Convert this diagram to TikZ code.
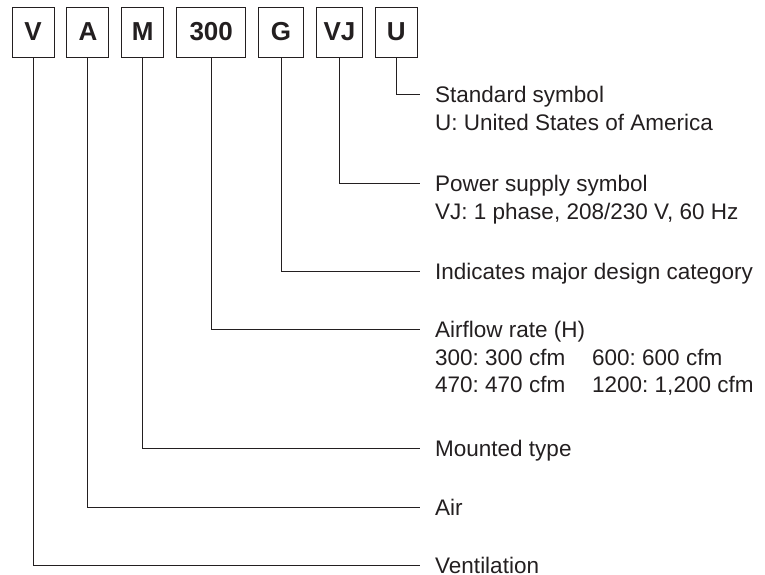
\documentclass[tikz,border=0pt]{standalone}
\usepackage{fontspec}
\setmainfont{Liberation Sans}
\usetikzlibrary{positioning}
\definecolor{ink}{RGB}{35,31,32}
\frenchspacing

\begin{document}
\begin{tikzpicture}[
        x=1pt, y=-1pt,
        node distance=12pt,
        codebox/.style={rectangle, draw=ink, line width=0.9pt, minimum width=42pt, minimum height=50pt, inner xsep=7pt, font=\fontsize{26}{30}\selectfont\bfseries, text=ink},
        desc/.style={anchor=west, inner xsep=15pt, inner ysep=0pt, text height=16pt, text depth=0pt, font=\fontsize{22.5}{28}\selectfont, text=ink},
        lead/.style={draw=ink, line width=0.9pt}
    ]
    \useasboundingbox (0,0) rectangle (765,574);

    % Code boxes
    \node[codebox] (v) at (33,32) {V};
    \node[codebox, right=of v] (a) {A};
    \node[codebox, right=of a] (m) {M};
    \node[codebox, right=of m, minimum width=69pt] (h) {300};
    \node[codebox, right=of h, minimum width=45pt] (g) {G};
    \node[codebox, right=of g] (vj) {VJ};
    \node[codebox, right=of vj] (u) {U};

    % Descriptions
    \node[desc] (u1) at (420,94) {Standard symbol};
    \node[desc] (u2) at (420,122) {U: United States of America};
    \node[desc] (vj1) at (420,183) {Power supply symbol};
    \node[desc] (vj2) at (420,211) {VJ: 1 phase, 208/230 V, 60 Hz};
    \node[desc] (g1) at (420,271) {Indicates major design category};
    \node[desc] (h1) at (420,329) {Airflow rate (H)};
    \node[desc] (h2) at (420,357) {300: 300 cfm};
    \node[desc] (h3) at (577,357) {600: 600 cfm};
    \node[desc] (h4) at (420,384) {470: 470 cfm};
    \node[desc] (h5) at (577,384) {1200: 1,200 cfm};
    \node[desc] (m1) at (420,448) {Mounted type};
    \node[desc] (a1) at (420,507) {Air};
    \node[desc] (v1) at (420,565) {Ventilation};

    % Leaders
    \draw[lead] (u) |- (u1);
    \draw[lead] (vj) |- (vj1);
    \draw[lead] (g) |- (g1);
    \draw[lead] (h) |- (h1);
    \draw[lead] (m) |- (m1);
    \draw[lead] (a) |- (a1);
    \draw[lead] (v) |- (v1);
\end{tikzpicture}
\end{document}
